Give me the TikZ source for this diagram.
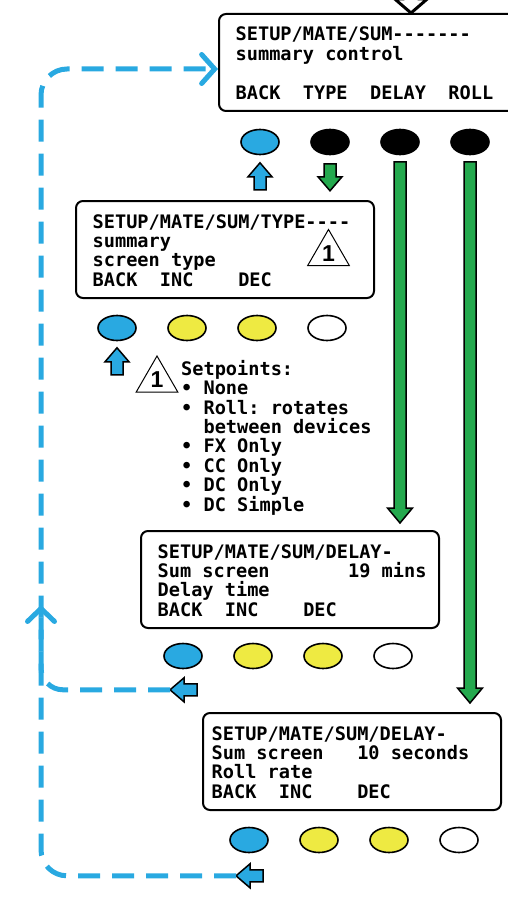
\documentclass[tikz,border=0pt]{standalone}
\usepackage{fontspec}
\setmonofont{DejaVu Sans Mono}
\newfontfamily\numfont{Liberation Sans}
\usetikzlibrary{arrows.meta,positioning,shapes.geometric,calc}

\definecolor{btnblue}{RGB}{41,169,225}
\definecolor{btnyellow}{RGB}{238,234,66}
\definecolor{arrgreen}{RGB}{36,169,78}

\tikzset{
  fatarrow/.pic={
    \draw[pic actions] (0,0) -- (12,-14) -- (6,-14) -- (6,-27) -- (-6,-27) -- (-6,-14) -- (-12,-14) -- cycle;
    \coordinate (-tip) at (0,0);
  }
}

\begin{document}
\begin{tikzpicture}[x=1pt,y=1pt]
\tikzstyle{screen}=[draw, rectangle, rounded corners=7pt, line width=2pt, minimum width=298pt, minimum height=97pt, anchor=north west, inner sep=0pt]
\tikzstyle{lcd}=[anchor=base west, align=left, inner sep=0pt, font=\ttfamily\bfseries\fontsize{18.6}{19.4}\selectfont]
\tikzstyle{btn}=[draw, ellipse, line width=1.6pt, minimum width=38pt, minimum height=25pt, inner sep=0pt]
\tikzstyle{warn}=[draw, regular polygon, regular polygon sides=3, minimum size=48pt, inner sep=0pt, line width=1pt, font=\numfont\bfseries\fontsize{23}{23}\selectfont]
\tikzstyle{loopback}=[btnblue, line width=5pt, dash pattern=on 22pt off 12pt]
\tikzstyle{greenstem}=[draw=black, fill=arrgreen, line width=1.5pt]
\tikzstyle{blk}=[line width=1.5pt]

\useasboundingbox (0,0) rectangle (508,-920);
\clip (0,0) rectangle (508,-920);

% summary control screen (text anchored on its last line)
\node[screen] (sum) at (218,-13) {};
\node[lcd] (sumtxt) at ([shift={(17.5,-86.2)}]sum.north west) {SETUP/MATE/SUM-------\\summary~control\\~\\BACK~~TYPE~~DELAY~~ROLL};
\pic[fill=white, line width=3pt, rotate=180, xscale=1.35] at ([xshift=43pt]sum.north) {fatarrow};

\node[btn, fill=btnblue] (sback) at ([shift={(42,-30)}]sum.south west) {};
\node[btn, fill=black] (stype) [right=30.4pt of sback] {};
\node[btn, fill=black] (sdelay) [right=30.4pt of stype] {};
\node[btn, fill=black] (sroll) [right=30.4pt of sdelay] {};
\pic[blk, fill=btnblue] at ([yshift=-7.5pt]sback.south) {fatarrow};
\pic[blk, fill=arrgreen, rotate=180] at ([yshift=-35.5pt]stype.south) {fatarrow};

% screen type
\node[screen] (type) at (75,-200) {};
\node[lcd] (typetxt) at ([shift={(17.5,-86.2)}]type.north west) {SETUP/MATE/SUM/TYPE----\\summary\\screen~type\\BACK~~INC~~~~DEC};
\node[warn] (tri1) at (328.5,-253.5) {1};

\node[btn, fill=btnblue] (tback) at ([shift={(42,-29)}]type.south west) {};
\node[btn, fill=btnyellow] (tinc) [right=30.4pt of tback] {};
\node[btn, fill=btnyellow] (tdec) [right=30.4pt of tinc] {};
\node[btn, fill=white] (tnone) [right=30.4pt of tdec] {};
\pic[blk, fill=btnblue] at ([yshift=-6.5pt]tback.south) {fatarrow};

% setpoints note
\node[warn] (tri2) at (157,-380) {1};
\node[lcd] (setpts) at (181,-511) {Setpoints:\\•~None\\•~Roll:~rotates\\~~between~devices\\•~FX~Only\\•~CC~Only\\•~DC~Only\\•~DC~Simple};

% delay time
\node[screen] (dly) at (140,-530) {};
\node[lcd] (dlytxt) at ([shift={(17.5,-86.2)}]dly.north west) {SETUP/MATE/SUM/DELAY-\\Sum~screen~~~~~~~19~mins\\Delay~time\\BACK~~INC~~~~DEC};

\node[btn, fill=btnblue] (dback) at ([shift={(43,-27)}]dly.south west) {};
\node[btn, fill=btnyellow] (dinc) [right=30.4pt of dback] {};
\node[btn, fill=btnyellow] (ddec) [right=30.4pt of dinc] {};
\node[btn, fill=white] (dnone) [right=30.4pt of ddec] {};
\pic[blk, fill=btnblue, rotate=90] (dret) at ([shift={(-13pt,-20.5pt)}]dback.south) {fatarrow};

% roll rate
\node[screen] (rly) at (202,-712) {};
\node[lcd] (rlytxt) at ([shift={(9.5,-86.2)}]rly.north west) {SETUP/MATE/SUM/DELAY-\\Sum~screen~~~10~seconds\\Roll~rate\\BACK~~INC~~~~DEC};

\node[btn, fill=btnblue] (rback) at ([shift={(47,-29)}]rly.south west) {};
\node[btn, fill=btnyellow] (rinc) [right=30.4pt of rback] {};
\node[btn, fill=btnyellow] (rdec) [right=30.4pt of rinc] {};
\node[btn, fill=white] (rnone) [right=30.4pt of rdec] {};
\pic[blk, fill=btnblue, rotate=90] (rret) at ([shift={(-13pt,-22.5pt)}]rback.south) {fatarrow};

% green arrows
\draw[greenstem] let \p1=(sdelay.south), \p2=(dly.north) in
  (\x1-6pt,\y1-6.5pt) -- (\x1+6pt,\y1-6.5pt) -- (\x1+6pt,\y2+22pt) -- (\x1+12.5pt,\y2+22pt)
  -- (\x1,\y2+7pt) -- (\x1-12.5pt,\y2+22pt) -- (\x1-6pt,\y2+22pt) -- cycle;
\draw[greenstem] let \p1=(sroll.south), \p2=(rly.north) in
  (\x1-6pt,\y1-6.5pt) -- (\x1+6pt,\y1-6.5pt) -- (\x1+6pt,\y2+24pt) -- (\x1+12.5pt,\y2+24pt)
  -- (\x1,\y2+9pt) -- (\x1-12.5pt,\y2+24pt) -- (\x1-6pt,\y2+24pt) -- cycle;

% back paths
\coordinate (sumin) at ([yshift=-6.5pt]sum.west);
\coordinate (merge) at (41,-605);
\draw[loopback, rounded corners=26pt, -{Straight Barb[length=13pt,width=29pt,line cap=round]}]
  (rret-tip) -| (merge |- sumin) -- (sumin);
\draw[loopback, rounded corners=22pt, -{Straight Barb[length=13pt,width=27pt,line cap=round]}]
  (dret-tip) -| (merge);
\end{tikzpicture}
\end{document}
